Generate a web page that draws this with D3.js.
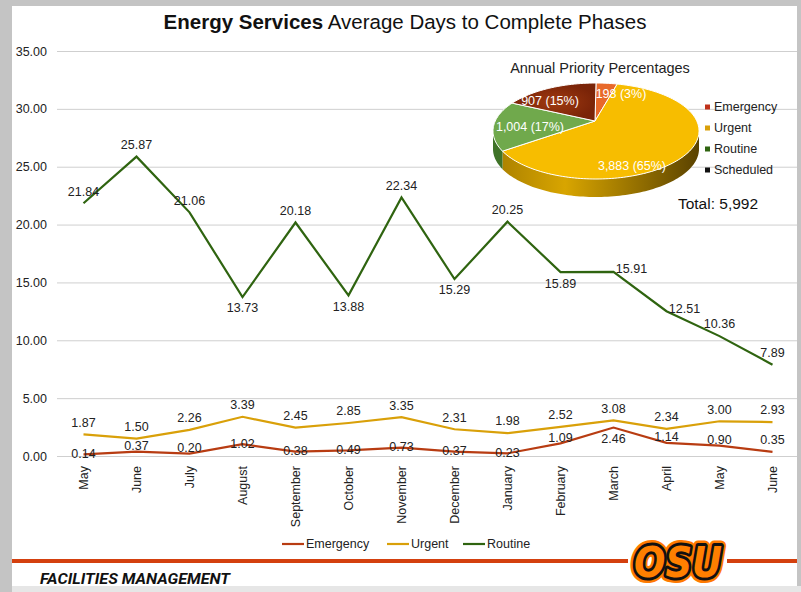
<!DOCTYPE html>
<html>
<head>
<meta charset="utf-8">
<script src="https://cdn.jsdelivr.net/npm/d3@7"></script>
<style>
  body { margin: 0; background: #c9c9c9; }
  svg { display: block; font-family: "Liberation Sans", Arial, sans-serif; }
</style>
</head>
<body>
<div id="chart"></div>
<script>
// months on the x axis
var months = ["May", "June", "July", "August", "September", "October", "November",
              "December", "January", "February", "March", "April", "May", "June"];
var emergency = [0.14, 0.37, 0.20, 1.02, 0.38, 0.49, 0.73, 0.37, 0.23, 1.09, 2.46, 1.14, 0.90, 0.35];
var urgent    = [1.87, 1.50, 2.26, 3.39, 2.45, 2.85, 3.35, 2.31, 1.98, 2.52, 3.08, 2.34, 3.00, 2.93];
var routine   = [21.84, 25.87, 21.06, 13.73, 20.18, 13.88, 22.34, 15.29, 20.25, 15.89, 15.91, 12.51, 10.36, 7.89];
var yTicks = [0, 5, 10, 15, 20, 25, 30, 35];

// where each data label sits relative to its point (t=above, b=below, c=on, n=near above, r=right)
var emergencyLabelPos = ["c","n","n","c","c","c","c","c","c","n","b","n","n","t"];
var urgentLabelPos    = ["t","t","t","t","t","t","t","t","t","t","t","t","t","t"];
var routineLabelPos   = ["t","t","t","b","t","b","t","b","t","b","r","r","t","t"];

// annual priority pie
var pieNames  = ["Emergency", "Urgent", "Routine", "Scheduled"];
var pieValues = [198, 3883, 1004, 907];
var pieLabels = ["198 (3%)", "3,883 (65%)", "1,004 (17%)", "907 (15%)"];
var pieTotal = "Total: 5,992";

var W = 801, H = 592;
var svg = d3.select("#chart").append("svg").attr("width", W).attr("height", H);

// frame
svg.append("rect").attr("width", W).attr("height", H).attr("fill", "#c4c4c4");
svg.append("rect").attr("x", 12).attr("y", 6).attr("width", 785).attr("height", 580).attr("fill", "#fff");
svg.append("rect").attr("x", 12).attr("y", 586).attr("width", 789).attr("height", 6).attr("fill", "#e6e6e6");

// title
var title = svg.append("text").attr("x", 405).attr("y", 29).attr("text-anchor", "middle")
    .attr("font-size", 20.5).attr("fill", "#111");
title.append("tspan").attr("font-weight", "bold").text("Energy Services");
title.append("tspan").text(" Average Days to Complete Phases");

var x = d3.scaleBand().domain(d3.range(months.length)).range([57, 799]);
var y = d3.scaleLinear().domain([0, 35]).range([456, 51]);
var cx = i => x(i) + x.bandwidth() / 2;

// y axis + gridlines
var yAxis = svg.append("g").attr("transform", "translate(57,0)")
    .call(d3.axisLeft(y).tickValues(yTicks).tickFormat(d3.format(".2f"))
        .tickSizeInner(-740).tickSizeOuter(0).tickPadding(10));
yAxis.select(".domain").remove();
yAxis.selectAll("line").attr("stroke", "#cfcfcf").attr("stroke-width", 1);
yAxis.selectAll("text").attr("font-size", 12.5).attr("fill", "#222")
    .attr("font-family", "Liberation Sans, Arial, sans-serif");

// x axis
var xAxis = svg.append("g").attr("transform", "translate(0,456)")
    .call(d3.axisBottom(x).tickFormat(i => months[i]).tickSize(0));
xAxis.select(".domain").remove();
xAxis.selectAll("text")
    .attr("font-size", 12.5).attr("fill", "#222")
    .attr("font-family", "Liberation Sans, Arial, sans-serif")
    .attr("text-anchor", "end")
    .attr("transform", "rotate(-90)")
    .attr("x", -10).attr("y", 0).attr("dy", "0.35em");

// lines
var series = [
  {name: "Emergency", values: emergency, color: "#b83c12", pos: emergencyLabelPos},
  {name: "Urgent", values: urgent, color: "#d9a009", pos: urgentLabelPos},
  {name: "Routine", values: routine, color: "#2f6410", pos: routineLabelPos}
];
var line = d3.line().x((d, i) => cx(i)).y(d => y(d));
var offs = {t: [0, -12], b: [0, 11], c: [0, -1], n: [0, -6], r: [18, -3]};

series.forEach(s => {
  svg.append("path").datum(s.values)
    .attr("fill", "none").attr("stroke", s.color).attr("stroke-width", 2.2)
    .attr("d", line);
});
series.forEach(s => {
  svg.append("g").selectAll("text").data(s.values).enter().append("text")
    .attr("x", (d, i) => cx(i) + offs[s.pos[i]][0])
    .attr("y", (d, i) => y(d) + offs[s.pos[i]][1])
    .attr("dy", "0.35em")
    .attr("text-anchor", "middle")
    .attr("font-size", 12.5).attr("fill", "#222")
    .text(d => d.toFixed(2));
});

// bottom legend
var leg = svg.append("g").attr("transform", "translate(282,544)");
var legX = [0, 105, 181];
series.forEach((s, i) => {
  var g = leg.append("g").attr("transform", `translate(${legX[i]},0)`);
  g.append("line").attr("x1", 0).attr("x2", 22).attr("stroke", s.color).attr("stroke-width", 2.2);
  g.append("text").attr("x", 24).attr("dy", "0.35em").attr("font-size", 12.5).attr("fill", "#222").text(s.name);
});

// ---- 3D pie ----
// apex sits a little above the ellipse centre to fake the perspective
var apexX = 595, apexY = 121;
var pcx = 596, pcy = 131, rx = 103, ry = 48, depth = 18;
var topCols  = ["#e8692a", "#f7bd00", "#70a94c", "#8b2c0c"];
var sideCols = ["#a8451a", "url(#urgSide)", "#3f7328", "#5a1c06"];
var defs = svg.append("defs");
var grad = defs.append("linearGradient").attr("id", "urgSide")
    .attr("gradientUnits", "userSpaceOnUse")
    .attr("x1", pcx - rx).attr("x2", pcx + rx).attr("y1", 0).attr("y2", 0);
grad.append("stop").attr("offset", "0%").attr("stop-color", "#a87e00");
grad.append("stop").attr("offset", "35%").attr("stop-color", "#d8a500");
grad.append("stop").attr("offset", "100%").attr("stop-color", "#5a4200");
var topGrad = defs.append("radialGradient").attr("id", "schedTop");
topGrad.append("stop").attr("offset", "0%").attr("stop-color", "#a03a10");
topGrad.append("stop").attr("offset", "100%").attr("stop-color", "#7a2408");

var arcs = d3.pie().sort(null)(pieValues);
var px = a => pcx + rx * Math.sin(a);
var py = a => pcy - ry * Math.cos(a);

function arcPts(a0, a1, dy) {
  var n = Math.max(2, Math.ceil((a1 - a0) / 0.03));
  return d3.range(n + 1).map(k => {
    var a = a0 + (a1 - a0) * k / n;
    return [px(a), py(a) + dy];
  });
}

var pieG = svg.append("g");
// outer walls on the visible front half
arcs.forEach((d, i) => {
  var a0 = Math.max(d.startAngle, Math.PI / 2), a1 = Math.min(d.endAngle, 3 * Math.PI / 2);
  if (a1 <= a0) return;
  var pts = arcPts(a0, a1, 0).concat(arcPts(a0, a1, depth).reverse());
  pieG.append("path").attr("d", "M" + pts.join("L") + "Z").attr("fill", sideCols[i]);
});
// top faces
arcs.forEach((d, i) => {
  var pts = [[apexX, apexY]].concat(arcPts(d.startAngle, d.endAngle, 0));
  pieG.append("path").attr("d", "M" + pts.join("L") + "Z")
    .attr("fill", i === 3 ? "url(#schedTop)" : topCols[i])
    .attr("stroke", "#fff").attr("stroke-width", 1).attr("stroke-linejoin", "round");
});
// slice labels
var pieLabelPos = [[621, 94], [632, 166], [530, 127], [550, 101]];
arcs.forEach((d, i) => {
  pieG.append("text")
    .attr("x", pieLabelPos[i][0]).attr("y", pieLabelPos[i][1]).attr("dy", "0.35em")
    .attr("text-anchor", "middle").attr("font-size", 12.5).attr("fill", "#fff")
    .text(pieLabels[i]);
});

svg.append("text").attr("x", 600).attr("y", 73).attr("text-anchor", "middle")
  .attr("font-size", 14.5).attr("fill", "#222").text("Annual Priority Percentages");

var pieLegCols = ["#c0321a", "#d9a009", "#2f6410", "#111"];
var pl = svg.append("g").attr("transform", "translate(705,107)");
pieNames.forEach((n, i) => {
  var g = pl.append("g").attr("transform", `translate(0,${i * 21})`);
  g.append("rect").attr("x", 0).attr("y", -2.5).attr("width", 5).attr("height", 5).attr("fill", pieLegCols[i]);
  g.append("text").attr("x", 9).attr("dy", "0.35em").attr("font-size", 12.5).attr("fill", "#222").text(n);
});
svg.append("text").attr("x", 718).attr("y", 209).attr("text-anchor", "middle")
  .attr("font-size", 15.5).attr("fill", "#111").text(pieTotal);

// ---- footer ----
svg.append("rect").attr("x", 12).attr("y", 559).attr("width", 616).attr("height", 4).attr("fill", "#d4400e");
svg.append("rect").attr("x", 727).attr("y", 559).attr("width", 70).attr("height", 4).attr("fill", "#d4400e");
svg.append("text").attr("x", 40).attr("y", 584)
  .attr("font-family", "Roboto, 'Liberation Sans', sans-serif")
  .attr("font-size", 15.5).attr("font-weight", "bold").attr("font-style", "italic")
  .attr("textLength", 190).attr("lengthAdjust", "spacingAndGlyphs")
  .attr("fill", "#111").text("FACILITIES MANAGEMENT");

var logo = svg.append("g").attr("transform", "translate(678,577)");
[["#ff7a00", 11], ["#111", 6]].forEach(s => {
  logo.append("text").attr("text-anchor", "middle").attr("font-size", 42)
    .attr("font-family", "DejaVu Sans, sans-serif").attr("font-weight", "bold").attr("font-style", "italic")
    .attr("textLength", 88).attr("lengthAdjust", "spacingAndGlyphs")
    .attr("fill", "none").attr("stroke", s[0]).attr("stroke-width", s[1]).attr("stroke-linejoin", "round")
    .text("OSU");
});
logo.append("text").attr("text-anchor", "middle").attr("font-size", 42)
  .attr("font-family", "DejaVu Sans, sans-serif").attr("font-weight", "bold").attr("font-style", "italic")
  .attr("textLength", 88).attr("lengthAdjust", "spacingAndGlyphs")
  .attr("fill", "#ff7f00").text("OSU");
</script>
</body>
</html>
